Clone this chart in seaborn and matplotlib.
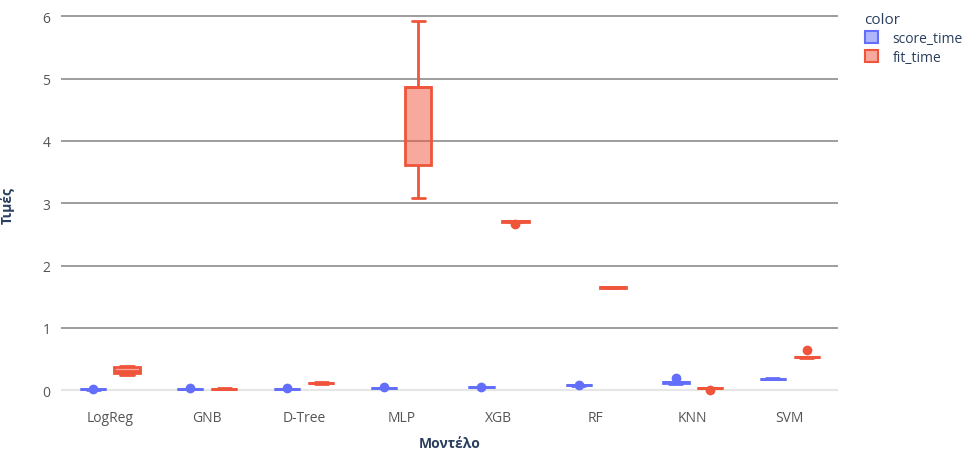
import numpy as np
import pandas as pd
import matplotlib
matplotlib.use("Agg")
import matplotlib.pyplot as plt
import seaborn as sns
from matplotlib.patches import Patch
from matplotlib.colors import to_rgba

models = ["LogReg", "GNB", "D-Tree", "MLP", "XGB", "RF", "KNN", "SVM"]
metrics = ["score_time", "fit_time"]

score_time = {
    "LogReg": [0.010, 0.011, 0.011, 0.012, 0.018],
    "GNB":    [0.024, 0.025, 0.025, 0.026, 0.030],
    "D-Tree": [0.024, 0.025, 0.025, 0.026, 0.032],
    "MLP":    [0.035, 0.036, 0.037, 0.038, 0.045],
    "XGB":    [0.045, 0.046, 0.047, 0.048, 0.055],
    "RF":     [0.075, 0.076, 0.077, 0.078, 0.090],
    "KNN":    [0.105, 0.112, 0.125, 0.138, 0.190],
    "SVM":    [0.180, 0.182, 0.184, 0.186, 0.188],
}
fit_time = {
    "LogReg": [0.25, 0.27, 0.31, 0.37, 0.38],
    "GNB":    [0.020, 0.022, 0.024, 0.026, 0.028],
    "D-Tree": [0.105, 0.110, 0.115, 0.122, 0.128],
    "MLP":    [3.08, 3.62, 4.86, 4.87, 5.93],
    "XGB":    [2.66, 2.70, 2.71, 2.71, 2.72],
    "RF":     [1.640, 1.645, 1.650, 1.655, 1.660],
    "KNN":    [0.000, 0.030, 0.032, 0.034, 0.036],
    "SVM":    [0.520, 0.530, 0.535, 0.540, 0.650],
}

rows = []
for m in models:
    for v in score_time[m]:
        rows.append((m, "score_time", v))
    for v in fit_time[m]:
        rows.append((m, "fit_time", v))
df = pd.DataFrame(rows, columns=["Μοντέλο", "color", "Τιμές"])

colors = {"score_time": "#636EFA", "fit_time": "#EF553B"}

sns.set_style("white")
plt.rcParams["font.family"] = ["Open Sans", "DejaVu Sans"]

fig = plt.figure(figsize=(9.76, 4.56), dpi=100)
ax = fig.add_axes([0.063, 0.123, 0.796, 0.853])

sns.boxplot(data=df, x="Μοντέλο", y="Τιμές", hue="color", order=models,
            hue_order=metrics, palette=colors, width=0.7, gap=0.23,
            fill=True, linewidth=2, whis=1.5, dodge=True,
            flierprops=dict(marker="o", markersize=6),
            ax=ax, legend=False)


def side_color(xmean):
    off = xmean - np.round(xmean)
    return colors["score_time"] if off < 0 else colors["fit_time"]


for p in ax.patches:
    verts = p.get_path().vertices
    verts = p.get_transform().transform(verts)
    verts = ax.transData.inverted().transform(verts)
    c = side_color(verts[:, 0].mean())
    p.set_facecolor(to_rgba(c, 0.5))
    p.set_edgecolor(c)
for ln in ax.lines:
    xd = np.asarray(ln.get_xdata(), dtype=float)
    if xd.size == 0:
        continue
    c = side_color(xd.mean())
    ln.set_color(c)
    ln.set_markerfacecolor(c)
    ln.set_markeredgecolor(c)

ax.set_xlim(-0.5, 7.5)
ax.set_ylim(-0.14, 6.1)
ax.set_yticks(range(0, 7))
for y in range(1, 7):
    ax.axhline(y, color="#8c8c8c", lw=1.2, zorder=0)
ax.axhline(0, color="#e6e6e6", lw=1.5, zorder=0)
for s in ax.spines.values():
    s.set_visible(False)
ax.tick_params(axis="both", colors="#555555", labelsize=10, length=0, pad=8)
ax.tick_params(axis="y", length=4, color="#8c8c8c", pad=4)
ax.set_xlabel("Μοντέλο", fontsize=10, fontweight="bold", color="#2a3f5f", labelpad=8)
ax.set_ylabel("Τιμές", fontsize=10, fontweight="bold", color="#2a3f5f", labelpad=20)

handles = [Patch(facecolor=to_rgba(colors[m], 0.5), edgecolor=colors[m], lw=1.5, label=m)
           for m in metrics]
leg = fig.legend(handles=handles, title="color", loc="upper left",
                 bbox_to_anchor=(0.873, 1.0), frameon=False, fontsize=10,
                 title_fontsize=11, alignment="left", handlelength=1.0,
                 handleheight=1.0, handletextpad=1.0, labelspacing=0.3)
for t in leg.get_texts():
    t.set_color("#2a3f5f")
leg.get_title().set_color("#2a3f5f")

fig.savefig("out.png", dpi=100)
